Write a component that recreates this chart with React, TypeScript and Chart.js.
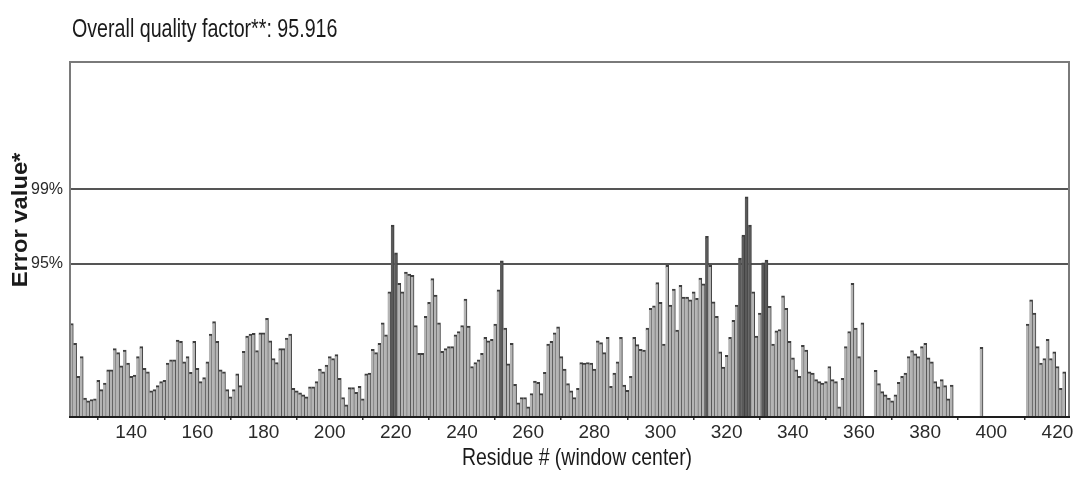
import React, { useEffect, useRef } from 'react';
import { Chart, registerables } from 'chart.js';

Chart.register(...registerables);

const TITLE = 'Overall quality factor**: 95.916';
const X_TITLE = 'Residue # (window center)';
const Y_TITLE = 'Error value*';

const FIRST_RESIDUE = 122;

// Error value per residue (window centre), residues 122 .. 423; null = no window
const errorValues: (number | null)[] = [
  7.0, 5.5, 3.0, 4.5, 1.35, 1.15, 1.25, 1.3, 2.7, 2.0,
  2.5, 3.5, 3.5, 5.1, 4.8, 3.8, 5.0, 4.0, 3.0, 3.1,
  4.5, 5.25, 3.6, 3.35, 1.9, 2.0, 2.3, 2.6, 2.7, 4.0,
  4.25, 4.25, 5.75, 5.65, 4.1, 4.5, 3.3, 5.65, 3.6, 2.6,
  2.9, 4.1, 6.2, 7.15, 5.65, 3.5, 3.35, 2.0, 1.45, 2.0,
  3.2, 2.3, 4.9, 6.05, 6.2, 6.25, 4.95, 6.3, 6.3, 7.4,
  5.7, 4.35, 4.05, 5.1, 5.1, 5.9, 6.2, 2.1, 1.9, 1.75,
  1.6, 1.45, 2.2, 2.2, 2.6, 3.55, 3.35, 3.85, 4.5, 4.35,
  4.65, 2.85, 1.4, 0.85, 2.15, 2.15, 1.8, 2.25, 1.3, 3.2,
  3.25, 5.05, 4.8, 5.5, 7.05, 6.15, 9.4, 14.45, 12.35, 10.05,
  9.4, 10.9, 10.75, 10.65, 6.85, 4.75, 4.75, 7.55, 8.6, 10.4,
  9.15, 7.05, 4.9, 5.1, 5.25, 5.25, 6.15, 6.4, 6.85, 8.85,
  6.8, 3.75, 4.05, 4.25, 4.75, 5.95, 5.7, 5.8, 6.95, 9.55,
  11.75, 6.65, 3.95, 5.5, 2.4, 1.0, 1.4, 1.4, 0.7, 1.7,
  2.65, 2.55, 1.7, 3.3, 5.45, 5.65, 6.3, 6.75, 4.5, 3.55,
  2.45, 1.9, 1.4, 2.1, 4.05, 4.0, 4.05, 4.0, 3.55, 5.7,
  5.55, 4.8, 5.95, 2.25, 3.25, 4.1, 5.95, 2.35, 1.95, 3.0,
  5.95, 5.4, 5.05, 5.0, 6.65, 8.15, 8.35, 10.1, 8.6, 5.45,
  11.4, 8.4, 9.6, 6.5, 9.9, 9.0, 9.0, 8.8, 9.4, 8.9,
  10.45, 10.0, 13.6, 11.4, 8.65, 7.55, 4.85, 3.7, 4.6, 5.95,
  7.25, 8.4, 11.95, 13.7, 16.6, 14.45, 9.4, 6.05, 7.8, 11.6,
  11.8, 8.3, 5.45, 6.45, 6.55, 9.1, 8.15, 5.65, 4.4, 3.5,
  3.0, 5.35, 5.0, 3.35, 3.25, 2.75, 2.6, 2.5, 2.6, 3.75,
  2.75, 2.6, 0.7, 2.85, 5.25, 6.4, 10.05, 6.65, 4.5, 7.05,
  null, null, null, 3.45, 2.45, 1.85, 1.6, 1.35, 1.15, 1.6,
  2.55, 3.0, 3.25, 4.5, 4.95, 4.7, 4.5, 5.25, 5.5, 4.4,
  4.1, 2.6, 2.2, 2.75, 2.3, 1.3, 2.35, null, null, null,
  null, null, null, null, null, 5.2, null, null, null, null,
  null, null, null, null, null, null, null, null, null, 6.95,
  8.8, 7.8, 5.25, 4.0, 4.35, 5.8, 4.35, 4.85, 3.75, 2.1,
  3.35, null,
];

const residues: number[] = errorValues.map((_, i) => FIRST_RESIDUE + i);

// Confidence limits drawn as horizontal lines
const thresholdValues = [11.52, 17.17];
const thresholdLabels = ['95%', '99%'];
const Y_MAX = 26.8;
const X_LABEL_STEP = 20;

const SANS = "'Liberation Sans', Arial, sans-serif";

function drawScaledText(
  ctx: CanvasRenderingContext2D,
  text: string,
  x: number,
  y: number,
  font: string,
  align: CanvasTextAlign,
  sx: number,
) {
  ctx.save();
  ctx.translate(x, y);
  ctx.scale(sx, 1);
  ctx.font = font;
  ctx.textAlign = align;
  ctx.textBaseline = 'alphabetic';
  ctx.fillText(text, 0, 0);
  ctx.restore();
}

const decorPlugin = {
  id: 'decor',
  afterDraw(chart: any) {
    const { ctx, chartArea } = chart;
    const { left, top, right, bottom } = chartArea;
    ctx.save();
    // frame
    ctx.strokeStyle = '#7a7a7a';
    ctx.lineWidth = 2;
    ctx.beginPath();
    ctx.moveTo(left, bottom);
    ctx.lineTo(left, top);
    ctx.lineTo(right, top);
    ctx.lineTo(right, bottom);
    ctx.stroke();
    ctx.strokeStyle = '#1e1e1e';
    ctx.beginPath();
    ctx.moveTo(left - 1, bottom + 1);
    ctx.lineTo(right + 1, bottom + 1);
    ctx.stroke();
    // texts
    ctx.fillStyle = '#1a1a1a';
    drawScaledText(ctx, TITLE, 72, 37, `25px ${SANS}`, 'left', 0.786);
    drawScaledText(ctx, X_TITLE, 577, 465, `24px ${SANS}`, 'center', 0.81);
    ctx.save();
    ctx.translate(27, 220);
    ctx.rotate(-Math.PI / 2);
    drawScaledText(ctx, Y_TITLE, 0, 0, `bold 22px ${SANS}`, 'center', 1.08);
    ctx.restore();
    ctx.restore();
  },
};

export default function App() {
  const canvasRef = useRef<HTMLCanvasElement | null>(null);

  useEffect(() => {
    document.body.style.margin = '0';
    const canvas = canvasRef.current;
    if (!canvas) return;
    const chart = new Chart(canvas, {
      type: 'bar',
      data: {
        labels: residues.map(String),
        datasets: [
          {
            data: errorValues as any,
            backgroundColor: (c: any) => (c.raw != null && c.raw > thresholdValues[0] ? '#5a5a5a' : '#b4b4b4'),
            borderColor: '#3e3e3e',
            borderWidth: { top: 2, right: 1, left: 0, bottom: 0 } as any,
            borderSkipped: 'bottom',
            barPercentage: 1,
            categoryPercentage: 1,
          },
        ],
      },
      options: {
        animation: false,
        responsive: false,
        maintainAspectRatio: false,
        layout: { padding: { top: 62, right: 4, bottom: 0, left: 0 } },
        plugins: {
          legend: { display: false },
          tooltip: { enabled: false },
          title: { display: false },
        },
        scales: {
          x: {
            type: 'category',
            offset: true,
            border: { display: false },
            grid: {
              display: true,
              offset: false,
              drawOnChartArea: false,
              drawTicks: true,
              tickLength: 4,
              lineWidth: 1.5,
              color: (c: any) =>
                residues[c.index] % X_LABEL_STEP === X_LABEL_STEP / 2 ? '#333' : 'rgba(0,0,0,0)',
            },
            ticks: {
              autoSkip: false,
              maxRotation: 0,
              minRotation: 0,
              padding: 1,
              color: '#2a2a2a',
              font: { family: SANS, size: 19 },
              callback: (_v: any, i: number) =>
                residues[i] % X_LABEL_STEP === 0 ? String(residues[i]) : '',
            },
            afterFit: (s: any) => {
              s.height = 61;
            },
          },
          y: {
            min: 0,
            max: Y_MAX,
            border: { display: false },
            afterBuildTicks: (s: any) => {
              s.ticks = thresholdValues.map((v) => ({ value: v }));
            },
            grid: { color: '#555', lineWidth: 2, drawTicks: false },
            ticks: {
              padding: 7,
              color: '#2a2a2a',
              font: { family: SANS, size: 16 },
              callback: (_v: any, i: number) => thresholdLabels[i] ?? '',
            },
            afterFit: (s: any) => {
              s.width = 70;
            },
          },
        },
      },
      plugins: [decorPlugin],
    });
    return () => chart.destroy();
  }, []);

  return (
    <div style={{ width: 1073, height: 477 }}>
      <canvas ref={canvasRef} width={1073} height={477} style={{ display: 'block' }} />
    </div>
  );
}
